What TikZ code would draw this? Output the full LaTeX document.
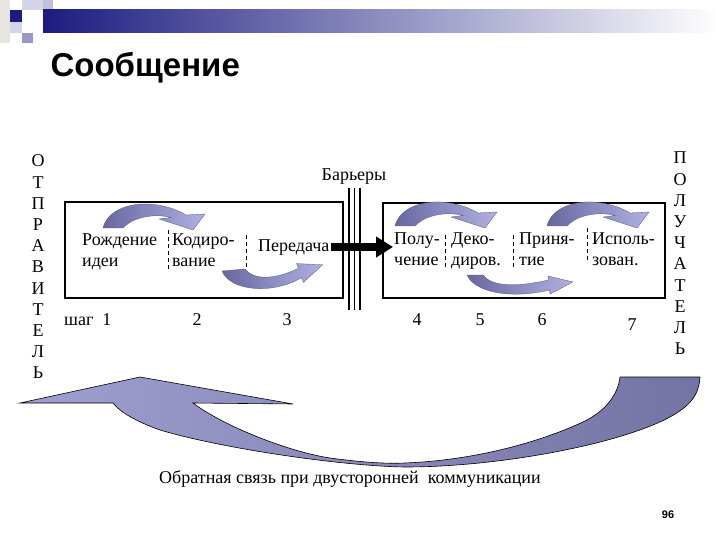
\documentclass[tikz,border=0pt]{standalone}
\usepackage{fontspec}
\setmainfont{Liberation Serif}
\newfontfamily\titlefont{Liberation Sans}
\usetikzlibrary{arrows.meta}
\definecolor{arrowdark}{RGB}{104,104,160}
\definecolor{arrowlight}{RGB}{176,176,226}
\definecolor{fblight}{RGB}{158,158,208}
\definecolor{fbdark}{RGB}{116,116,164}
\definecolor{navy}{RGB}{28,28,128}
\definecolor{lavender}{RGB}{152,152,200}
\definecolor{paleblue}{RGB}{212,212,232}
\definecolor{palegray}{RGB}{230,230,222}
\tikzset{
  lbl/.style={font=\fontsize{18}{21}\selectfont, align=left, inner sep=1pt},
  divline/.style={dash pattern=on 4pt off 3pt, line width=0.7pt},
  stagebox/.style={draw, line width=1.1pt},
  barrier/.style={line width=1.1pt},
  bigarrow/.style={line width=8pt, -{Triangle[length=17pt,width=20pt]}},
  bentarrow/.style={draw=arrowdark!80!black, line width=0.3pt, left color=arrowdark, right color=arrowlight},
  backarrow/.style={draw=black, line width=0.6pt, left color=fblight, right color=fbdark},
}
\begin{document}
\begin{tikzpicture}[x=1pt,y=-1pt]
\useasboundingbox (0,0) rectangle (720,540);
% template corner
\fill[palegray] (0,0) rectangle (10,43);
\fill[paleblue] (22,0) rectangle (43,10);
\fill[lavender!60] (43,0) rectangle (53,20);
\fill[paleblue] (10,22) rectangle (22,33);
\fill[navy] (10,10) rectangle (22,22);
\fill[lavender] (22,33) rectangle (33,43);
\shade[left color=navy, right color=white] (43,10) rectangle (720,33);
\node[anchor=west, font=\titlefont\bfseries\fontsize{33}{38}\selectfont] (title) at (47,68) {Сообщение};
% frames and barriers
\draw[stagebox] (65,202) rectangle (343,298);
\draw[stagebox] (383,203) rectangle (665,298);
\foreach \x in {349,354.5,360} \draw[barrier] (\x,188) -- (\x,310);
\node[lbl] (barery) at (354,177) {Барьеры};
% stages
\node[lbl, anchor=west] (rozhdenie) at (81,252) {\strut Рождение\\\strut идеи};
\node[lbl, anchor=west] (kodirovanie) at (171,252) {\strut Кодиро-\\\strut вание};
\node[lbl, anchor=west] (peredacha) at (257,247) {\strut Передача};
\node[lbl, anchor=west] (poluchenie) at (393,251) {\strut Полу-\\\strut чение};
\node[lbl, anchor=west] (dekodirovanie) at (450,251) {\strut Деко-\\\strut диров.};
\node[lbl, anchor=west] (prinyatie) at (518,251) {\strut Приня-\\\strut тие};
\node[lbl, anchor=west] (ispolzovanie) at (591,251) {\strut Исполь-\\\strut зован.};
\draw[divline] (168,230) -- (168,271);
\draw[divline] (246,235) -- (246,270);
\draw[divline] (445,235) -- (445,268);
\draw[divline] (513,235) -- (513,268);
\draw[divline] (587,228) -- (587,263);
\draw[bigarrow] (peredacha.east) -- (peredacha.east -| poluchenie.west);
% steps
\node[lbl, anchor=west] (shag) at (63,320) {шаг\ \ 1};
\node[lbl] (step2) at (197,320) {2};
\node[lbl] (step3) at (287,320) {3};
\node[lbl] (step4) at (417,320) {4};
\node[lbl] (step5) at (480,320) {5};
\node[lbl] (step6) at (542,320) {6};
\node[lbl] (step7) at (632,325) {7};
% sender and receiver
\foreach \l [count=\i] in {О,Т,П,Р,А,В,И,Т,Е,Л,Ь}
  \node[lbl] (otpr\i) at (38,139.8+21.2*\i) {\l};
\foreach \l [count=\i] in {П,О,Л,У,Ч,А,Т,Е,Л,Ь}
  \node[lbl] (poluch\i) at (680,136.8+21.2*\i) {\l};
% curved arrows over the stages
\foreach \x/\y in {103/228,395/226,547/226}
  \shade[bentarrow, shift={(\x,\y)}] (0,0) .. controls (4,-17) and (25,-25) .. (46,-24)
    .. controls (62,-23) and (75,-18) .. (83,-13) -- (102,-14) -- (90,2) -- (56,-9) -- (68,-10.5)
    .. controls (56,-14) and (32,-13) .. (20,0) -- cycle;
% curved arrows under the stages
\shade[bentarrow, shift={(222,271)}] (0,0) .. controls (8,20) and (50,24) .. (79.7,6.7)
  -- (81.4,11.4) -- (100.6,-6.2) -- (74.6,-7.4) -- (76.3,-2.7)
  .. controls (55,8) and (32,10) .. (23,-2) -- cycle;
\shade[bentarrow, shift={(467,275)}] (0,0) .. controls (8,18) and (45,24) .. (82.6,15)
  -- (83,19) -- (106,7) -- (81,1) -- (81.4,5)
  .. controls (50,12) and (25,12) .. (16,0) -- cycle;
% feedback
\shade[backarrow] (20,403) -- (140,377) -- (293,404) -- (193,403)
  .. controls (225,427) and (290,452) .. (330,458) .. controls (360,462) and (385,464) .. (405,463)
  .. controls (480,460) and (545,440) .. (585,421) .. controls (605,411) and (618,395) .. (620,377)
  -- (700,377) .. controls (699,395) and (690,406) .. (670,417)
  .. controls (620,444) and (500,467) .. (405,467) .. controls (340,466) and (220,448) .. (160,430)
  .. controls (135,421) and (120,412) .. (113,403) -- cycle;
\node[lbl] (svyaz) at (350,479) {Обратная связь при двусторонней\ \ коммуникации};
\node[font=\titlefont\bfseries\fontsize{11}{13}\selectfont] (page) at (668,515) {96};
\end{tikzpicture}
\end{document}
